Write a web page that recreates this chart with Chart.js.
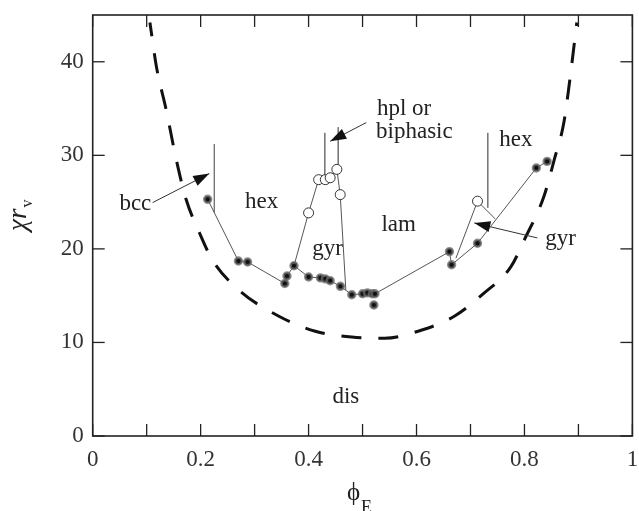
<!DOCTYPE html>
<html><head><meta charset="utf-8">
<script src="https://cdn.jsdelivr.net/npm/chart.js@4.4.1/dist/chart.umd.min.js"></script>
<style>html,body{margin:0;padding:0;background:#fff;} #wrap{width:639px;height:511px;}</style>
</head><body><div id="wrap"><canvas id="c" width="639" height="511"></canvas></div>
<script>
// ---- data ----
const xLabelValues = [0, 0.2, 0.4, 0.6, 0.8, 1];
const xLabelTexts  = ['0', '0.2', '0.4', '0.6', '0.8', '1'];
const yLabelValues = [0, 10, 20, 30, 40];
const yLabelTexts  = ['0', '10', '20', '30', '40'];

// mean-field (dashed) boundary
const meanFieldX = [0.106, 0.118, 0.136, 0.155, 0.173, 0.198, 0.222, 0.271, 0.345, 0.4125, 0.48, 0.541, 0.603, 0.670, 0.7256, 0.775, 0.800, 0.836, 0.855, 0.873, 0.885, 0.897];
const meanFieldY = [44.2, 39.5, 34.9, 29.5, 25.3, 21.7, 18.8, 15.6, 12.8, 11.2, 10.57, 10.46, 11.2, 12.8, 15.3, 18.1, 21.0, 25.6, 29.5, 33.5, 38.5, 44.2];

// order-disorder transitions (filled points, connected)
const odtX = [0.213, 0.270, 0.287, 0.356, 0.360, 0.373, 0.400, 0.422, 0.431, 0.440, 0.459, 0.480, 0.500, 0.509, 0.518, 0.523, 0.661, 0.665, 0.713, 0.822, 0.842];
const odtY = [25.3, 18.7, 18.6, 16.3, 17.1, 18.2, 17.0, 16.9, 16.8, 16.6, 16.0, 15.1, 15.2, 15.3, 15.2, 15.2, 19.7, 18.3, 20.6, 28.65, 29.35];
const odtExtraX = [0.521];
const odtExtraY = [14.0];

// order-order transitions (open points)
const ootX = [0.400, 0.4186, 0.431, 0.440, 0.4524, 0.4586, 0.713];
const ootY = [23.85, 27.4, 27.4, 27.6, 28.5, 25.8, 25.1];
const ootLeftPathX = [0.373, 0.400, 0.4186, 0.431, 0.440, 0.4524, 0.4586, 0.469];
const ootLeftPathY = [18.2, 23.85, 27.4, 27.4, 27.6, 28.5, 25.8, 15.6];
const ootRightPathX = [0.673, 0.713, 0.746];
const ootRightPathY = [19.0, 25.1, 23.2];

// vertical phase-boundary markers
const boundaryX = [0.2254, 0.430, 0.455, 0.732];
const boundaryTop = [31.2, 32.4, 33.0, 32.4];
const boundaryBottom = [23.9, 27.6, 28.6, 24.4];

// annotation arrows (from -> to)
const arrowFromX = [0.111, 0.507, 0.824];
const arrowFromY = [24.95, 33.5, 21.17];
const arrowToX = [0.2161, 0.4401, 0.707];
const arrowToY = [28.05, 31.5, 22.77];

// region labels (centre x, baseline y)
const regionText = ['bcc', 'hex', 'gyr', 'lam', 'dis', 'hpl or', 'biphasic', 'hex', 'gyr'];
const regionX = [0.079, 0.313, 0.435, 0.567, 0.469, 0.577, 0.596, 0.784, 0.867];
const regionY = [24.2, 24.4, 19.35, 21.9, 3.5, 34.3, 31.8, 31.0, 20.45];

// ---- chart ----
const SERIF = "'Liberation Serif','Times New Roman',serif";
const pts = (xs, ys) => xs.map((x, i) => ({x: x, y: ys[i]}));

const datasets = [];
datasets.push({data: pts(ootX, ootY), showLine: false, pointRadius: 5, pointBackgroundColor: '#fff',
  pointBorderColor: '#333', pointBorderWidth: 1, order: 1});
datasets.push({data: pts(odtExtraX, odtExtraY), showLine: false, pointRadius: 3.4, pointBackgroundColor: '#111',
  pointBorderColor: 'rgba(105,105,105,0.75)', pointBorderWidth: 2.6, order: 1});
datasets.push({data: pts(odtX, odtY), showLine: true, borderColor: '#555', borderWidth: 1, pointRadius: 3.4,
  pointBackgroundColor: '#111', pointBorderColor: 'rgba(105,105,105,0.75)', pointBorderWidth: 2.6, order: 2});
datasets.push({data: pts(ootLeftPathX, ootLeftPathY), showLine: true, borderColor: '#555', borderWidth: 1, pointRadius: 0, order: 3});
datasets.push({data: pts(ootRightPathX, ootRightPathY), showLine: true, borderColor: '#555', borderWidth: 1, pointRadius: 0, order: 3});
boundaryX.forEach((bx, i) => {
  datasets.push({data: [{x: bx, y: boundaryTop[i]}, {x: bx, y: boundaryBottom[i]}], showLine: true,
    borderColor: '#777', borderWidth: 1, pointRadius: 0, order: 3});
});
arrowFromX.forEach((ax, i) => {
  datasets.push({data: [{x: ax, y: arrowFromY[i]}, {x: arrowToX[i], y: arrowToY[i]}], showLine: true,
    borderColor: '#333', borderWidth: 1, pointRadius: 0, order: 3, arrowHead: true});
});
datasets.push({data: pts(meanFieldX, meanFieldY), showLine: true, borderColor: '#111', borderWidth: 3,
  borderDash: [20, 17], borderDashOffset: 6, pointRadius: 0, cubicInterpolationMode: 'monotone', order: 4});

const decor = {
  id: 'decor',
  afterDatasetsDraw(chart) {
    const ctx = chart.ctx, a = chart.chartArea, xs = chart.scales.x, ys = chart.scales.y;
    ctx.save();
    // arrow heads
    chart.data.datasets.forEach((ds, i) => {
      if (!ds.arrowHead) return;
      const d = chart.getDatasetMeta(i).data;
      const p0 = d[d.length - 2], p1 = d[d.length - 1];
      const ang = Math.atan2(p1.y - p0.y, p1.x - p0.x);
      const L = 16, W = 5.5, c = Math.cos(ang), s = Math.sin(ang);
      ctx.fillStyle = '#111';
      ctx.beginPath();
      ctx.moveTo(p1.x, p1.y);
      ctx.lineTo(p1.x - L * c + W * s, p1.y - L * s - W * c);
      ctx.lineTo(p1.x - L * c - W * s, p1.y - L * s + W * c);
      ctx.closePath();
      ctx.fill();
    });
    // frame
    ctx.strokeStyle = '#222';
    ctx.lineWidth = 1.6;
    ctx.strokeRect(a.left, a.top, a.right - a.left, a.bottom - a.top);
    // ticks
    const seg = (x1, y1, x2, y2) => { ctx.beginPath(); ctx.moveTo(x1, y1); ctx.lineTo(x2, y2); ctx.stroke(); };
    ctx.lineWidth = 1.3;
    xs.ticks.forEach(t => { const p = xs.getPixelForValue(t.value); seg(p, a.bottom, p, a.bottom - 12); seg(p, a.top, p, a.top + 12); });
    ys.ticks.forEach(t => { const p = ys.getPixelForValue(t.value); seg(a.left, p, a.left + 12, p); seg(a.right, p, a.right - 12, p); });
    // region labels
    ctx.fillStyle = '#222';
    ctx.font = '23px ' + SERIF;
    ctx.textAlign = 'center';
    ctx.textBaseline = 'alphabetic';
    regionText.forEach((t, i) => ctx.fillText(t, xs.getPixelForValue(regionX[i]), ys.getPixelForValue(regionY[i])));
    // x title
    ctx.textAlign = 'left';
    ctx.font = '25px ' + SERIF;
    ctx.fillText('\u03D5', 347, 500);
    ctx.font = '18px ' + SERIF;
    ctx.fillText('E', 361, 513);
    // y title
    ctx.translate(26, 231);
    ctx.rotate(-Math.PI / 2);
    ctx.font = 'italic 27px ' + SERIF;
    ctx.fillText('\u03C7r', 0, 0);
    const w = ctx.measureText('\u03C7r').width;
    ctx.font = '16px ' + SERIF;
    ctx.fillText('v', w + 1, 6);
    ctx.restore();
  }
};

const tickFont = {family: SERIF, size: 23};
new Chart(document.getElementById('c'), {
  type: 'scatter',
  data: {datasets: datasets},
  options: {
    responsive: false,
    animation: false,
    devicePixelRatio: 1,
    events: [],
    layout: {padding: {top: 15, right: 3, left: 0, bottom: 0}},
    plugins: {legend: {display: false}, tooltip: {enabled: false}},
    scales: {
      x: {
        type: 'linear', min: 0, max: 1,
        grid: {display: false, drawTicks: false}, border: {display: false},
        ticks: {stepSize: 0.1, autoSkip: false, maxRotation: 0, font: tickFont, color: '#333', padding: 10,
          callback: v => { const i = xLabelValues.findIndex(q => Math.abs(q - v) < 1e-6); return i < 0 ? '' : xLabelTexts[i]; }},
        afterFit: s => { s.height = 75; s.paddingLeft = 0; s.paddingRight = 0; }
      },
      y: {
        type: 'linear', min: 0, max: 45,
        grid: {display: false, drawTicks: false}, border: {display: false},
        ticks: {stepSize: 10, includeBounds: false, font: tickFont, color: '#333', padding: 9,
          callback: v => { const i = yLabelValues.findIndex(q => Math.abs(q - v) < 1e-6); return i < 0 ? '' : yLabelTexts[i]; }},
        afterFit: s => { s.width = 92.7; s.paddingTop = 0; s.paddingBottom = 0; }
      }
    }
  },
  plugins: [decor]
});
</script>
</body></html>
